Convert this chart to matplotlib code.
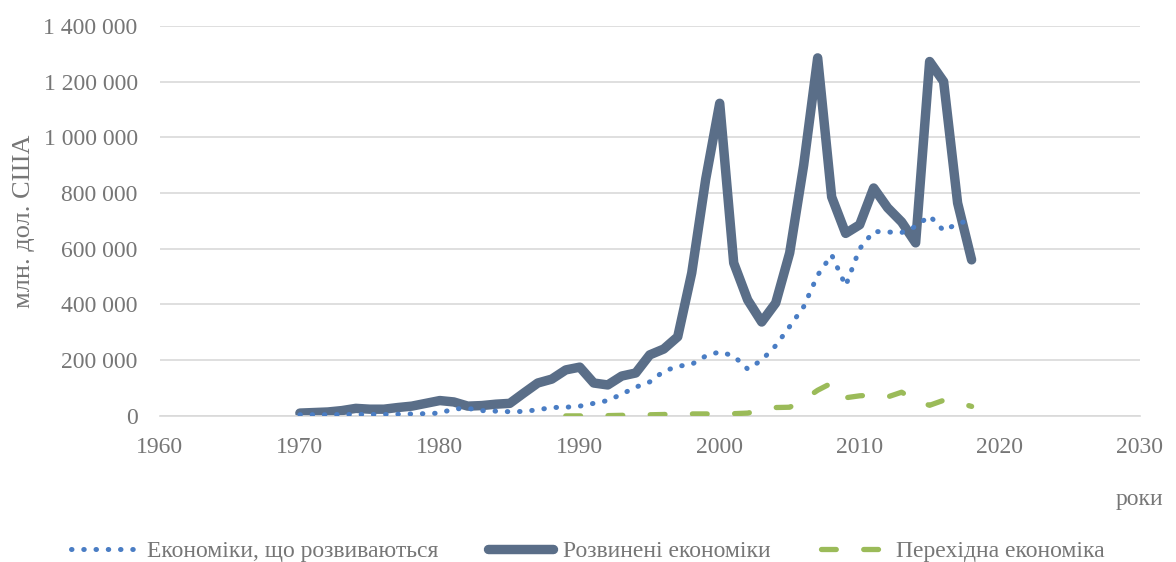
import matplotlib.pyplot as plt
from matplotlib.ticker import FuncFormatter, MultipleLocator

plt.rcParams["font.family"] = ["Liberation Serif", "DejaVu Serif"]

GREY_TXT = "#767676"
GRID = "#D9D9D9"
DARK = "#5A6E88"
BLUE = "#4A7DC4"
GREEN = "#9BBB59"

years = list(range(1970, 2019))

# developed economies, mln USD
developed = [10000, 12000, 14000, 19000, 27000, 24000, 24000, 30000, 35000, 45000,
             55000, 50000, 35000, 37000, 42000, 45000, 82000, 118000, 132000, 165000,
             175000, 118000, 111000, 143000, 154000, 219000, 240000, 284000, 513000, 850000,
             1122000, 549000, 416000, 337000, 405000, 585000, 900000, 1285000, 786000, 655000,
             686000, 818000, 747000, 696000, 621000, 1272000, 1200000, 764000, 560000]

# developing economies, mln USD
developing = [4000, 4000, 4000, 5000, 5000, 5000, 5000, 6000, 7000, 8000,
              10000, 25000, 27000, 19000, 17000, 15000, 16000, 22000, 30000, 31000,
              35000, 45000, 55000, 78000, 103000, 122000, 160000, 178000, 185000, 215000,
              230000, 215000, 168000, 200000, 252000, 321000, 392000, 505000, 578000, 467000,
              600000, 662000, 660000, 658000, 680000, 718000, 665000, 690000, 704000]

# transition economies, mln USD
trans_years = list(range(1989, 2019))
transition = [0, 0, 500, 1000, 2000, 2000, 4000, 5000, 8000, 7000,
              7000, 6000, 8000, 10000, 22000, 30000, 31000, 58000, 92000, 118000,
              65000, 72000, 75000, 68000, 85000, 55000, 38000, 56000, 48000, 34000]

fig = plt.figure(figsize=(11.76, 5.62), dpi=100)
ax = fig.add_axes([0.136, 0.260, 0.833, 0.694])

ax.plot(years, developing, color=BLUE, lw=3.6, linestyle=(0, (0.1, 2.35)),
        dash_capstyle="round", label="Економіки, що розвиваються", zorder=3)
ax.plot(years, developed, color=DARK, lw=6.8, solid_capstyle="round",
        solid_joinstyle="round", label="Розвинені економіки", zorder=2)
ax.plot(trans_years, transition, color=GREEN, lw=3.8, linestyle=(0, (2.8, 5.2)),
        dash_capstyle="round", label="Перехідна економіка", zorder=3)

ax.set_xlim(1960, 2030)
ax.set_ylim(0, 1400000)
ax.xaxis.set_major_locator(MultipleLocator(10))
ax.yaxis.set_major_locator(MultipleLocator(200000))
ax.yaxis.set_major_formatter(FuncFormatter(lambda v, p: f"{int(v):,}".replace(",", " ")))

ax.grid(axis="y", color=GRID, lw=1.2)
ax.set_axisbelow(True)
for s in ["top", "right", "left"]:
    ax.spines[s].set_visible(False)
ax.spines["bottom"].set_color(GRID)
ax.spines["bottom"].set_linewidth(1.2)
ax.tick_params(length=0, labelsize=17, colors=GREY_TXT)
ax.tick_params(axis="y", pad=16)
ax.tick_params(axis="x", pad=15)

ax.set_ylabel("млн. дол. США", fontsize=19, color=GREY_TXT, labelpad=6)
fig.text(0.989, 0.112, "роки", ha="right", va="center", fontsize=17, color=GREY_TXT)

fig.legend(loc="center", bbox_to_anchor=(0.5, 0.019), ncol=3, frameon=False,
           fontsize=17, labelcolor=GREY_TXT, handlelength=2.75,
           handletextpad=0.45, columnspacing=2.1)

fig.savefig("out.png", dpi=100, facecolor="white")
